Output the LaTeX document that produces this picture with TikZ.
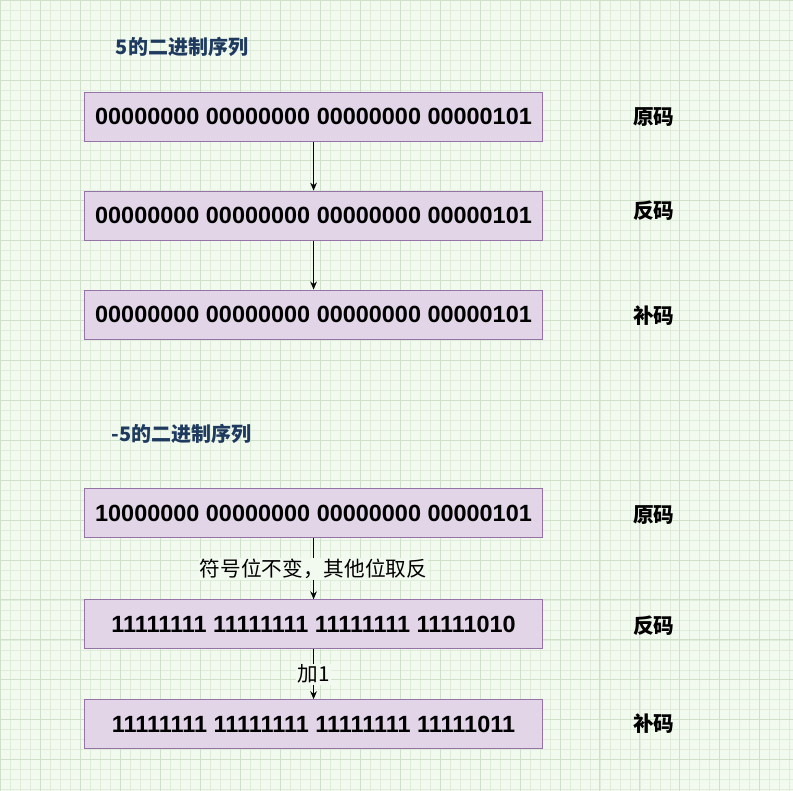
\documentclass[tikz,border=0pt]{standalone}
\usepackage{fontspec}
\usetikzlibrary{arrows.meta}
\setmainfont{Liberation Sans}
\newfontfamily\cjk{Noto Sans CJK SC}
\definecolor{bgc}{HTML}{F2F9EF}
\definecolor{gmin}{HTML}{E0ECDA}
\definecolor{gmaj}{HTML}{CFE0C8}
\definecolor{bfill}{HTML}{E1D5E7}
\definecolor{bdraw}{HTML}{9673A6}
\definecolor{ttl}{HTML}{1F3A5F}
\begin{document}
\begin{tikzpicture}[x=0.75pt,y=-0.75pt,
  bits/.style={draw=bdraw,fill=bfill,line width=0.8pt,minimum width=459*0.75pt,minimum height=49*0.75pt,inner sep=0pt,font=\bfseries\fontsize{17.6}{19}\selectfont},
  lab/.style={font=\cjk\bfseries\fontsize{15.5}{17}\selectfont},
  ttlst/.style={font=\cjk\bfseries\fontsize{15}{17}\selectfont,text=ttl,anchor=west},
  arr/.style={-{Stealth[length=6pt,width=5pt]},line width=0.7pt},
  elab/.style={fill=bgc,font=\cjk\fontsize{15.5}{17}\selectfont,inner sep=1pt}]
\fill[bgc] (0,0) rectangle (793,791);
\foreach \i in {0,10,...,790} {\draw[gmin,line width=0.4pt] (\i,0)--(\i,791); \draw[gmin,line width=0.4pt] (0,\i)--(793,\i);}
\foreach \i in {0,40,...,790} {\draw[gmaj,line width=0.5pt] (\i,0)--(\i,791); \draw[gmaj,line width=0.5pt] (0,\i)--(793,\i);}
\useasboundingbox (0,0) rectangle (793,791);
\node[ttlst] (t1) at (111,47) {5的二进制序列};
\node[ttlst] (t2) at (107,434) {-5的二进制序列};
\node[bits] (a1) at (313.5,116.5) {00000000 00000000 00000000 00000101};
\node[bits] (a2) at (313.5,215.5) {00000000 00000000 00000000 00000101};
\node[bits] (a3) at (313.5,314.5) {00000000 00000000 00000000 00000101};
\node[bits] (b1) at (313.5,513.5) {10000000 00000000 00000000 00000101};
\node[bits] (b2) at (313.5,624.5) {11111111 11111111 11111111 11111010};
\node[bits] (b3) at (313.5,724.5) {11111111 11111111 11111111 11111011};
\node[lab] (l1) at (654,117) {原码};
\node[lab] (l2) at (654,211) {反码};
\node[lab] (l3) at (654,316) {补码};
\node[lab] (l4) at (654,515) {原码};
\node[lab] (l5) at (654,626) {反码};
\node[lab] (l6) at (654,724) {补码};
\draw[arr] (a1)--(a2);
\draw[arr] (a2)--(a3);
\draw[arr] (b1)--node[elab]{符号位不变，其他位取反}(b2);
\draw[arr] (b2)--node[elab]{加1}(b3);
\end{tikzpicture}
\end{document}
